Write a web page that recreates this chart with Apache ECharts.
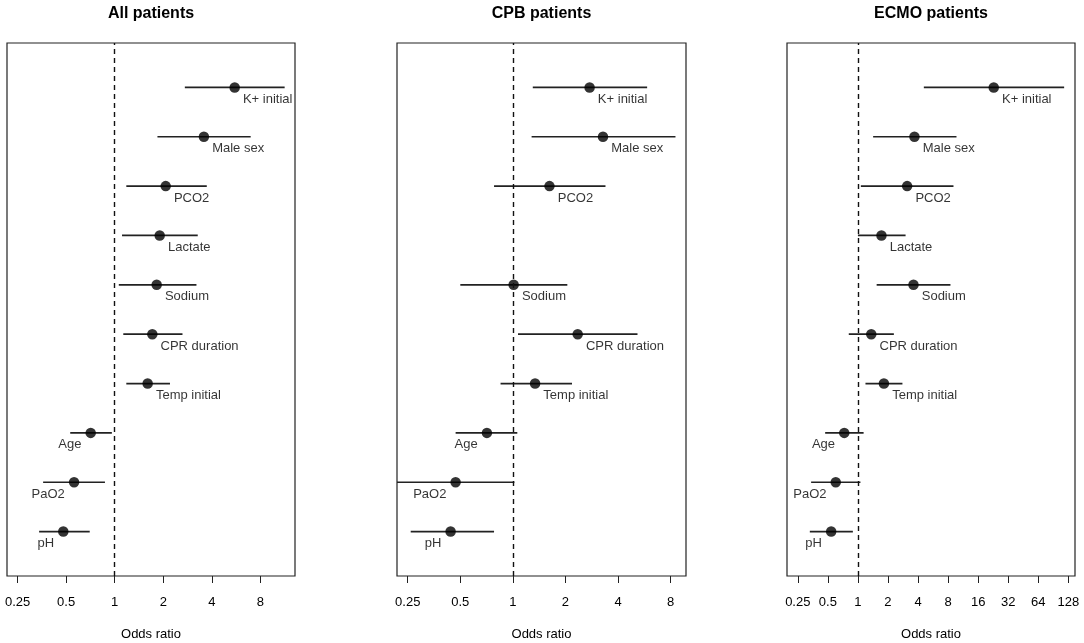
<!DOCTYPE html>
<html>
<head>
<meta charset="utf-8">
<script src="https://cdn.jsdelivr.net/npm/echarts@6/dist/echarts.min.js"></script>
<style>
  html, body { margin: 0; padding: 0; background: #fff; }
  #forestChart { width: 1084px; height: 643px; }
</style>
</head>
<body>
<div id="forestChart"></div>
<script>
// predictors, top row first
const predictors = ['K+ initial', 'Male sex', 'PCO2', 'Lactate', 'Sodium',
    'CPR duration', 'Temp initial', 'Age', 'PaO2', 'pH'];
const rowPos = [10, 9, 8, 7, 6, 5, 4, 3, 2, 1];

const panelTitles = ['All patients', 'CPB patients', 'ECMO patients'];

// odds ratios with 95% CI (null = not in model)
const allOR = [5.54, 3.57, 2.07, 1.90, 1.82, 1.71, 1.60, 0.71, 0.56, 0.48];
const allLo = [2.72, 1.84, 1.18, 1.11, 1.06, 1.13, 1.18, 0.53, 0.36, 0.34];
const allHi = [11.3, 6.96, 3.72, 3.27, 3.21, 2.63, 2.20, 0.96, 0.87, 0.70];

const cpbOR = [2.75, 3.28, 1.62, null, 1.01, 2.35, 1.34, 0.71, 0.47, 0.44];
const cpbLo = [1.30, 1.28, 0.78, null, 0.50, 1.07, 0.85, 0.47, 0.20, 0.26];
const cpbHi = [5.87, 8.53, 3.39, null, 2.05, 5.17, 2.18, 1.06, 1.02, 0.78];

const ecmoOR = [22.9, 3.68, 3.11, 1.72, 3.60, 1.36, 1.82, 0.73, 0.60, 0.54];
const ecmoLo = [4.57, 1.42, 1.07, 1.00, 1.54, 0.81, 1.19, 0.47, 0.34, 0.33];
const ecmoHi = [116, 9.70, 9.05, 3.00, 8.44, 2.29, 2.79, 1.14, 1.06, 0.89];

// x axis limits (log scale, padded like R's default)
const xMin = [0.215, 0.217, 0.195];
const xMax = [13.1, 9.8, 149];

const panels = [
    { or: allOR, lo: allLo, hi: allHi },
    { or: cpbOR, lo: cpbLo, hi: cpbHi },
    { or: ecmoOR, lo: ecmoLo, hi: ecmoHi }
];

// grid boxes in px
const grids = [
    { left: 7, right: 789, top: 43, bottom: 67 },
    { left: 397, right: 398, top: 43, bottom: 67 },
    { left: 787, right: 9, top: 43, bottom: 67 }
];

const chart = echarts.init(document.getElementById('forestChart'));

const titles = [];
const xAxes = [];
const yAxes = [];
const series = [];

panels.forEach((p, i) => {
    const g = grids[i];
    const centerX = g.left + (1084 - g.left - g.right) / 2;
    titles.push({
        text: panelTitles[i],
        left: centerX,
        top: 6,
        padding: 0,
        textAlign: 'center',
        textStyle: { fontSize: 16, fontWeight: 'bold', color: '#000' }
    });

    xAxes.push({
        type: 'log',
        logBase: 2,
        gridIndex: i,
        min: xMin[i],
        max: xMax[i],
        name: 'Odds ratio',
        nameLocation: 'middle',
        nameGap: 52,
        nameTextStyle: { fontSize: 13, color: '#000' },
        axisLine: { show: false },
        axisTick: { length: 7, lineStyle: { color: '#222', width: 1 } },
        axisLabel: {
            fontSize: 13,
            color: '#000',
            margin: 20,
            showMinLabel: false,
            showMaxLabel: false,
            formatter: v => String(+(+v).toPrecision(6))
        },
        splitLine: { show: false }
    });

    yAxes.push({ type: 'value', gridIndex: i, min: 0.1, max: 10.9, show: false });

    const ciData = [];
    const pointData = [];
    predictors.forEach((name, k) => {
        if (p.or[k] == null) return;
        ciData.push([p.lo[k], p.hi[k], rowPos[k]]);
        const below = p.or[k] < 1;
        pointData.push({
            value: [p.or[k], rowPos[k]],
            name: name,
            label: { position: below ? 'left' : 'right', distance: below ? 4 : 3 }
        });
    });

    series.push({
        type: 'custom',
        xAxisIndex: i,
        yAxisIndex: i,
        clip: true,
        silent: true,
        encode: { x: [0, 1], y: 2 },
        data: ciData,
        renderItem: (params, api) => {
            const a = api.coord([api.value(0), api.value(2)]);
            const b = api.coord([api.value(1), api.value(2)]);
            return {
                type: 'line',
                shape: { x1: a[0], y1: a[1], x2: b[0], y2: b[1] },
                style: { stroke: '#222', lineWidth: 1.7 }
            };
        }
    });

    series.push({
        type: 'scatter',
        xAxisIndex: i,
        yAxisIndex: i,
        symbol: 'circle',
        symbolSize: 10.5,
        itemStyle: { color: '#000' },
        silent: true,
        data: pointData,
        label: {
            show: true,
            formatter: '{b}',
            fontSize: 13,
            color: '#000',
            offset: [0, 12]
        },
        markLine: {
            silent: true,
            symbol: 'none',
            label: { show: false },
            lineStyle: { type: [5, 4], color: '#111', width: 1.4 },
            data: [{ xAxis: 1 }]
        },
        z: 3
    });
});

chart.setOption({
    animation: false,
    textStyle: { fontFamily: 'Liberation Sans, Arial, sans-serif' },
    title: titles,
    grid: grids.map(g => Object.assign({
        show: true, borderColor: '#222', borderWidth: 1.2, outerBoundsMode: 'none'
    }, g)),
    xAxis: xAxes,
    yAxis: yAxes,
    series: series
});
</script>
</body>
</html>
